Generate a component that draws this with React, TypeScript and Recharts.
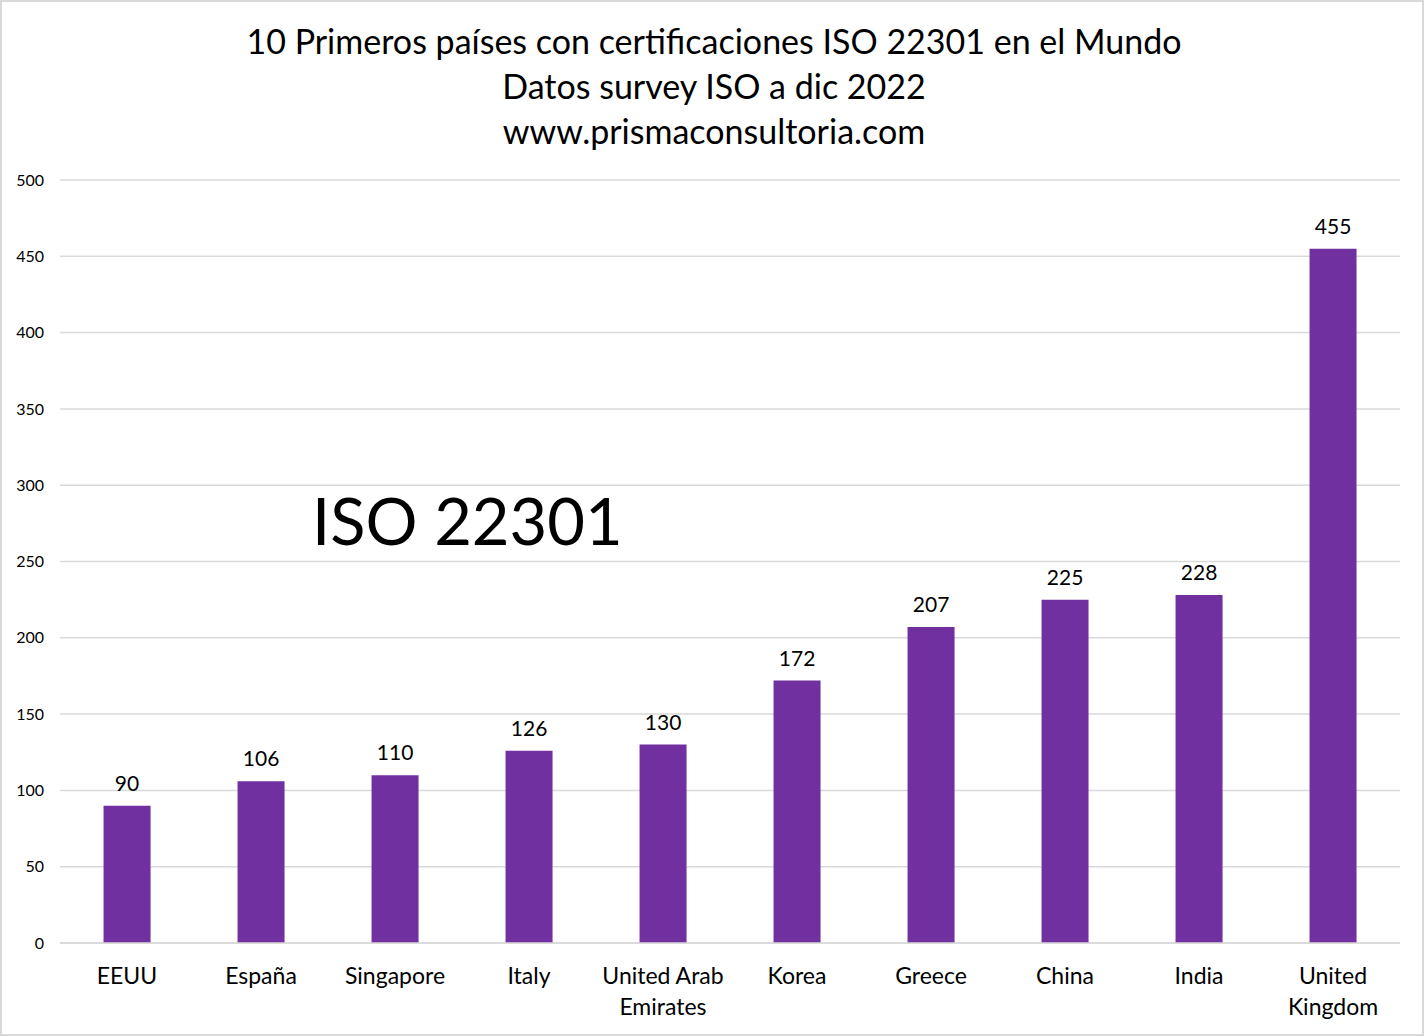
import { BarChart, Bar, XAxis, YAxis, CartesianGrid, LabelList } from 'recharts'

/* ─── Data ─── */

const countries = [
  'EEUU',
  'España',
  'Singapore',
  'Italy',
  'United Arab Emirates',
  'Korea',
  'Greece',
  'China',
  'India',
  'United Kingdom',
]

const certificates = [90, 106, 110, 126, 130, 172, 207, 225, 228, 455]

const yTicks = [0, 50, 100, 150, 200, 250, 300, 350, 400, 450, 500]

const titleLines = [
  '10 Primeros países con certificaciones ISO 22301 en el Mundo',
  'Datos survey ISO a dic 2022',
  'www.prismaconsultoria.com',
]

const chartData = countries.map((name, i) => ({ name, value: certificates[i] }))

/* ─── Constants ─── */

const FONT = 'Lato, "Open Sans", sans-serif'
const BAR_COLOR = '#7030a0'
const GRID_COLOR = '#d9d9d9'

// greedy word wrap, roughly like Excel does for category labels
function wrapLabel(label: string, maxChars = 11): string[] {
  const words = label.split(' ')
  const lines: string[] = []
  let current = ''
  for (const w of words) {
    const next = current ? `${current} ${w}` : w
    if (next.length > maxChars && current) {
      lines.push(current)
      current = w
    } else {
      current = next
    }
  }
  if (current) lines.push(current)
  return lines
}

function CategoryTick({ x, y, payload }: { x?: number; y?: number; payload?: { value: string } }) {
  const lines = wrapLabel(payload?.value ?? '')
  return (
    <text x={x} y={y} textAnchor="middle" fill="#000" fontSize={23} fontFamily={FONT}>
      {lines.map((line, i) => (
        <tspan key={i} x={x} dy={i === 0 ? 33 : 31}>
          {line}
        </tspan>
      ))}
    </text>
  )
}

/* ─── Main Component ─── */

export default function App() {
  return (
    <div
      style={{
        position: 'absolute',
        left: 0,
        top: 0,
        width: 1424,
        height: 1036,
        boxSizing: 'border-box',
        border: `2px solid ${GRID_COLOR}`,
        background: '#fff',
        fontFamily: FONT,
      }}
    >
      <div
        style={{
          position: 'absolute',
          left: 0,
          top: 16,
          width: 1424,
          textAlign: 'center',
          fontSize: 34,
          lineHeight: '45px',
          color: '#000',
        }}
      >
        {titleLines.map((t) => (
          <div key={t}>{t}</div>
        ))}
      </div>

      <div
        style={{
          position: 'absolute',
          left: 310,
          top: 478,
          fontSize: 65,
          lineHeight: '80px',
          color: '#000',
          whiteSpace: 'nowrap',
        }}
      >
        ISO 22301
      </div>

      <div style={{ position: 'absolute', left: -2, top: -2 }}>
        <BarChart
          width={1424}
          height={1036}
          data={chartData}
          margin={{ top: 180, right: 24, bottom: 0, left: 0 }}
          barCategoryGap="32.5%"
        >
          <CartesianGrid vertical={false} stroke={GRID_COLOR} strokeWidth={1.5} />
          <XAxis
            dataKey="name"
            height={93}
            interval={0}
            tickLine={false}
            axisLine={{ stroke: GRID_COLOR, strokeWidth: 1.5 }}
            tick={<CategoryTick />}
          />
          <YAxis
            width={60}
            domain={[0, 500]}
            ticks={yTicks}
            axisLine={false}
            tickLine={false}
            tickMargin={10}
            tick={{ fill: '#000', fontSize: 16, fontFamily: FONT }}
          />
          <Bar dataKey="value" fill={BAR_COLOR} isAnimationActive={false}>
            <LabelList
              dataKey="value"
              position="top"
              offset={15}
              fill="#000"
              fontSize={21}
              fontFamily={FONT}
            />
          </Bar>
        </BarChart>
      </div>
    </div>
  )
}
